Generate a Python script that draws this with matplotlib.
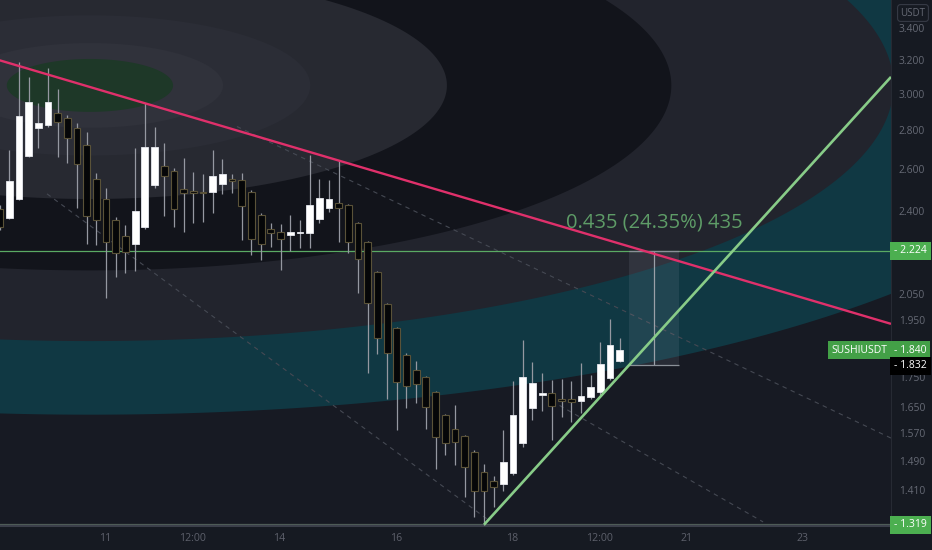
import numpy as np
import matplotlib.pyplot as plt
from matplotlib import transforms
from matplotlib.ticker import NullLocator, NullFormatter

# --- SUSHIUSDT 4h candles ---
opens = [2.409, 2.368, 2.456, 2.666, 2.812, 2.828, 2.893, 2.866, 2.812, 2.722,
         2.551, 2.456, 2.359, 2.288, 2.254, 2.328, 2.522, 2.615, 2.590, 2.503,
         2.493, 2.489, 2.489, 2.527, 2.551, 2.546, 2.489, 2.382, 2.319, 2.306,
         2.293, 2.301, 2.301, 2.364, 2.414, 2.437, 2.428, 2.346, 2.262, 2.136,
         2.010, 1.920, 1.823, 1.772, 1.748, 1.699, 1.626, 1.583, 1.562, 1.515,
         1.459, 1.434, 1.425, 1.456, 1.542, 1.648, 1.689, 1.696, 1.676, 1.676,
         1.670, 1.683, 1.699, 1.745, 1.803]
highs = [2.428, 2.696, 3.190, 3.099, 2.949, 3.153, 3.029, 2.883, 2.839, 2.790,
         2.580, 2.508, 2.373, 2.337, 2.707, 2.949, 2.817, 2.733, 2.605, 2.655,
         2.585, 2.576, 2.696, 2.650, 2.576, 2.580, 2.500, 2.390, 2.346, 2.341,
         2.382, 2.359, 2.671, 2.551, 2.546, 2.645, 2.433, 2.350, 2.266, 2.140,
         2.015, 1.925, 1.830, 1.803, 1.752, 1.702, 1.630, 1.657, 1.565, 1.520,
         1.481, 1.447, 1.580, 1.735, 1.876, 1.799, 1.762, 1.738, 1.742, 1.735,
         1.795, 1.755, 1.869, 1.953, 1.883]
lows = [2.315, 2.364, 2.450, 2.660, 2.707, 2.820, 2.661, 2.630, 2.414, 2.254,
        2.249, 2.033, 2.116, 2.132, 2.140, 2.320, 2.510, 2.377, 2.328, 2.306,
        2.346, 2.350, 2.390, 2.479, 2.484, 2.271, 2.207, 2.186, 2.241, 2.144,
        2.224, 2.236, 2.236, 2.346, 2.395, 2.262, 2.215, 2.052, 1.762, 1.827,
        1.676, 1.580, 1.648, 1.664, 1.583, 1.467, 1.507, 1.478, 1.391, 1.338,
        1.319, 1.364, 1.407, 1.450, 1.530, 1.611, 1.638, 1.550, 1.620, 1.604,
        1.632, 1.675, 1.690, 1.740, 1.800]
closes = [2.328, 2.541, 2.877, 2.955, 2.839, 2.955, 2.844, 2.759, 2.625, 2.377,
          2.359, 2.262, 2.215, 2.219, 2.400, 2.712, 2.712, 2.566, 2.409, 2.484,
          2.484, 2.486, 2.566, 2.576, 2.541, 2.425, 2.275, 2.254, 2.301, 2.275,
          2.306, 2.306, 2.428, 2.460, 2.456, 2.414, 2.262, 2.190, 2.014, 1.883,
          1.830, 1.732, 1.719, 1.725, 1.651, 1.559, 1.542, 1.544, 1.473, 1.407,
          1.407, 1.417, 1.487, 1.626, 1.748, 1.729, 1.696, 1.654, 1.670, 1.667,
          1.686, 1.715, 1.792, 1.859, 1.840]

# time axis: bar index of the 11th 00:00, label offsets in days
day11_bar = 10.9
tick_days = [0, 1.5, 3, 5, 7, 8.5, 10, 12]
tick_labels = ['11', '12:00', '14', '16', '18', '12:00', '21', '23']
price_ticks = [3.4, 3.2, 3.0, 2.8, 2.6, 2.4, 2.05, 1.95, 1.75, 1.65, 1.57, 1.49, 1.41]

# drawings (bar index, price)
resist_x, resist_p = [0, 92], [3.20, 1.935]
support_x, support_p = [50, 92], [1.319, 3.10]
guide_x = [[4.9, 50.5], [24.5, 92.0], [57.0, 78.8]]
guide_p = [[2.48, 1.33], [2.82, 1.556], [1.670, 1.326]]
level_hi, level_lo = 2.224, 1.319
measure_x = [65.0, 70.1]
measure_lo, measure_hi = 1.789, 2.224
last_price, countdown_price = 1.840, 1.832

# fib circle background
fib_center_x, fib_center_p = 9.33, 3.05
fib_rx, fib_rlog = 60.0, 0.353
fib_levels = [1.78, 1.382, 1.0, 0.614, 0.379, 0.229, 0.143]
fib_colors = ['#103843', '#22242d', '#12141b', '#272931', '#2b2d36', '#30323b', '#1e3828']

plt.rcParams['font.family'] = ['Open Sans', 'DejaVu Sans']

fig = plt.figure(figsize=(9.32, 5.5), dpi=100)
fig.patch.set_facecolor('#161a22')
ax = fig.add_axes([0, 24 / 550, 891 / 932, 526 / 550])
ax.set_facecolor('#171a23')
ax.set_yscale('log')
ax.set_xlim(0.05, 92.0)
ax.set_ylim(1.3157, 3.59)

# Background rings
t = np.linspace(0, 2 * np.pi, 500)
for lvl, col in zip(fib_levels, fib_colors):
    ax.fill(fib_center_x + lvl * fib_rx * np.cos(t),
            fib_center_p * np.exp(lvl * fib_rlog * np.sin(t)),
            color=col, lw=0, zorder=0)

# Guide lines and levels
for gx, gp in zip(guide_x, guide_p):
    ax.plot(gx, gp, color='#454953', lw=0.8, ls=(0, (4, 4)), zorder=1)
ax.axhline(level_hi, color='#5aaa63', lw=0.9, zorder=2)
ax.axhline(level_lo, color='#4f5d58', lw=1.6, zorder=2)

# Measure box
ax.fill_between(measure_x, measure_lo, measure_hi, color='#9aa3b5', alpha=0.13, lw=0, zorder=2)
ax.vlines(np.mean(measure_x), measure_lo, measure_hi, color='#9aa0a8', lw=0.9, zorder=2)
ax.hlines([measure_lo, measure_hi], measure_x[0], measure_x[1], color='#8a9098', lw=0.9, zorder=2)
ax.text(np.mean(measure_x), 2.35, '0.435 (24.35%) 435', color='#5e9c67',
        fontsize=14.5, ha='center', va='center', zorder=6)

# Candles
o, h, l, c = map(np.array, (opens, highs, lows, closes))
idx = np.arange(len(o))
up = c >= o
ax.vlines(idx, l, h, color='#9598a1', lw=0.9, zorder=3)
body_lo = np.minimum(o, c)
body_h = np.abs(c - o)
ax.bar(idx[up], body_h[up], bottom=body_lo[up], width=0.7, color='#ffffff',
       edgecolor='#e6e8ee', lw=0.6, zorder=4)
ax.bar(idx[~up], body_h[~up], bottom=body_lo[~up], width=0.7, color='#050608',
       edgecolor='#5a5238', lw=0.8, zorder=4)

# Trend lines
ax.plot(resist_x, resist_p, color='#e0306b', lw=1.7, zorder=5, solid_capstyle='butt')
ax.plot(support_x, support_p, color='#88cc88', lw=1.9, zorder=5, solid_capstyle='butt')

# Axes formatting
ax.yaxis.tick_right()
ax.set_yticks(price_ticks)
ax.set_yticklabels([f'{p:.3f}' for p in price_ticks])
ax.yaxis.set_minor_locator(NullLocator())
ax.yaxis.set_minor_formatter(NullFormatter())
ax.tick_params(axis='y', length=0, pad=5.5, labelsize=7.4, labelcolor='#666a75')
ax.set_xticks([day11_bar + 6 * d for d in tick_days])
ax.set_xticklabels(tick_labels)
ax.tick_params(axis='x', length=0, pad=5, labelsize=7.6, labelcolor='#5d606b')
for side in ('top', 'left'):
    ax.spines[side].set_visible(False)
ax.spines['bottom'].set_color('#3b3f4a')
ax.spines['bottom'].set_linewidth(1.5)
ax.spines['right'].set_color('#262a33')
ax.spines['right'].set_linewidth(0.8)

# Price labels on the scale
trans = transforms.blended_transform_factory(ax.transAxes, ax.transData)
box = dict(boxstyle='square,pad=0.35', ec='none')
for price, fc in [(level_hi, '#4caf50'), (last_price, '#43a047'), (level_lo, '#4caf50')]:
    ax.text(1.0035, price, f'- {price:.3f}', transform=trans, ha='left', va='center',
            fontsize=7.5, color='white', bbox=dict(box, fc=fc), clip_on=False, zorder=10)
ax.text(0.996, last_price, 'SUSHIUSDT', transform=trans, ha='right', va='center',
        fontsize=7.5, color='white', bbox=dict(box, fc='#43a047'), clip_on=False, zorder=10)
ax.annotate(f'- {countdown_price:.3f}', xy=(1.0035, countdown_price), xycoords=trans,
            xytext=(0, -9.5), textcoords='offset points', ha='left', va='center',
            fontsize=7.5, color='white', bbox=dict(box, fc='#000000'),
            annotation_clip=False, zorder=10)
fig.text(913 / 932, 1 - 13 / 550, 'USDT', ha='center', va='center', fontsize=7,
         color='#666a75', bbox=dict(boxstyle='round,pad=0.3', fc='none', ec='#363a45', lw=0.8))

fig.savefig('out.png', dpi=100, facecolor=fig.get_facecolor())
